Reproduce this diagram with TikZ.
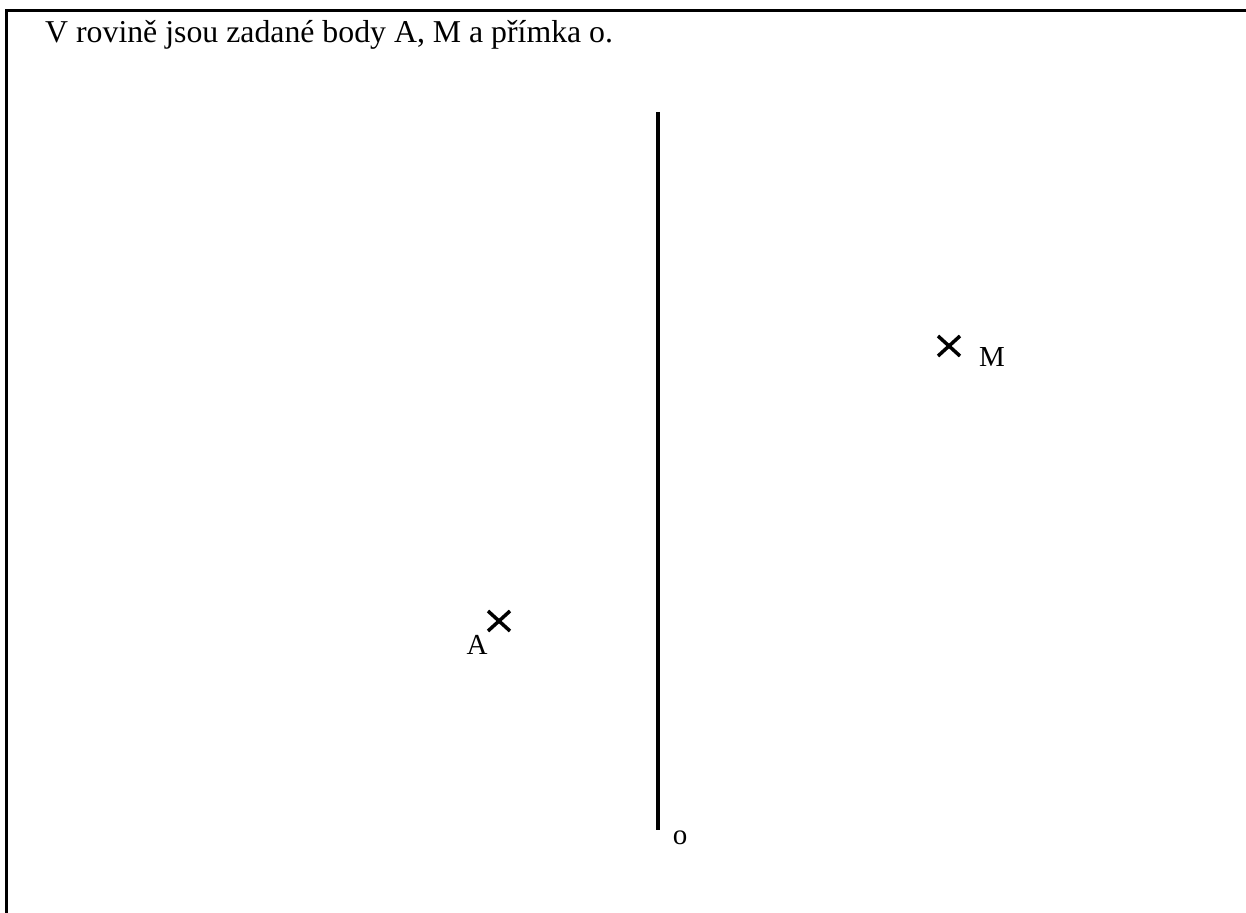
\documentclass[tikz,border=0pt]{standalone}
\usepackage{fontspec}
\setmainfont{Liberation Serif}
\begin{document}
\begin{tikzpicture}[x=1pt,y=-1pt,
  lbl/.style={inner sep=0pt,font=\fontsize{29}{34}\selectfont},
  titlefont/.style={inner sep=0pt,font=\fontsize{31.8}{36}\selectfont},
  crossmark/.style={line width=3.5pt},
  frameline/.style={line width=3pt}]
\useasboundingbox (0,0) rectangle (1246,912);
\coordinate (tl) at (6.5,11);
\coordinate (tr) at (1250,11);
\coordinate (bl) at (6.5,916);
\draw[frameline] (bl) -- (tl) -- (tr);
\node[titlefont,anchor=base west] (title) at (45,43) {V rovině jsou zadané body A, M a přímka o.};
\coordinate (otop) at (658,112);
\coordinate (obot) at (658,830);
\draw[line width=4pt] (otop) -- (obot);
\node[lbl] (olbl) at (680,838) {o};
% A
\coordinate (A) at (499,621);
\draw[crossmark] ([shift={(-11,-10)}]A) -- ([shift={(11,10)}]A);
\draw[crossmark] ([shift={(-11,10)}]A) -- ([shift={(11,-10)}]A);
\node[lbl] (Alb) at (477,645) {A};
% M
\coordinate (M) at (949,346);
\draw[crossmark] ([shift={(-11,-10)}]M) -- ([shift={(11,10)}]M);
\draw[crossmark] ([shift={(-11,10)}]M) -- ([shift={(11,-10)}]M);
\node[lbl] (Mlb) at (992,357) {M};
\end{tikzpicture}
\end{document}
